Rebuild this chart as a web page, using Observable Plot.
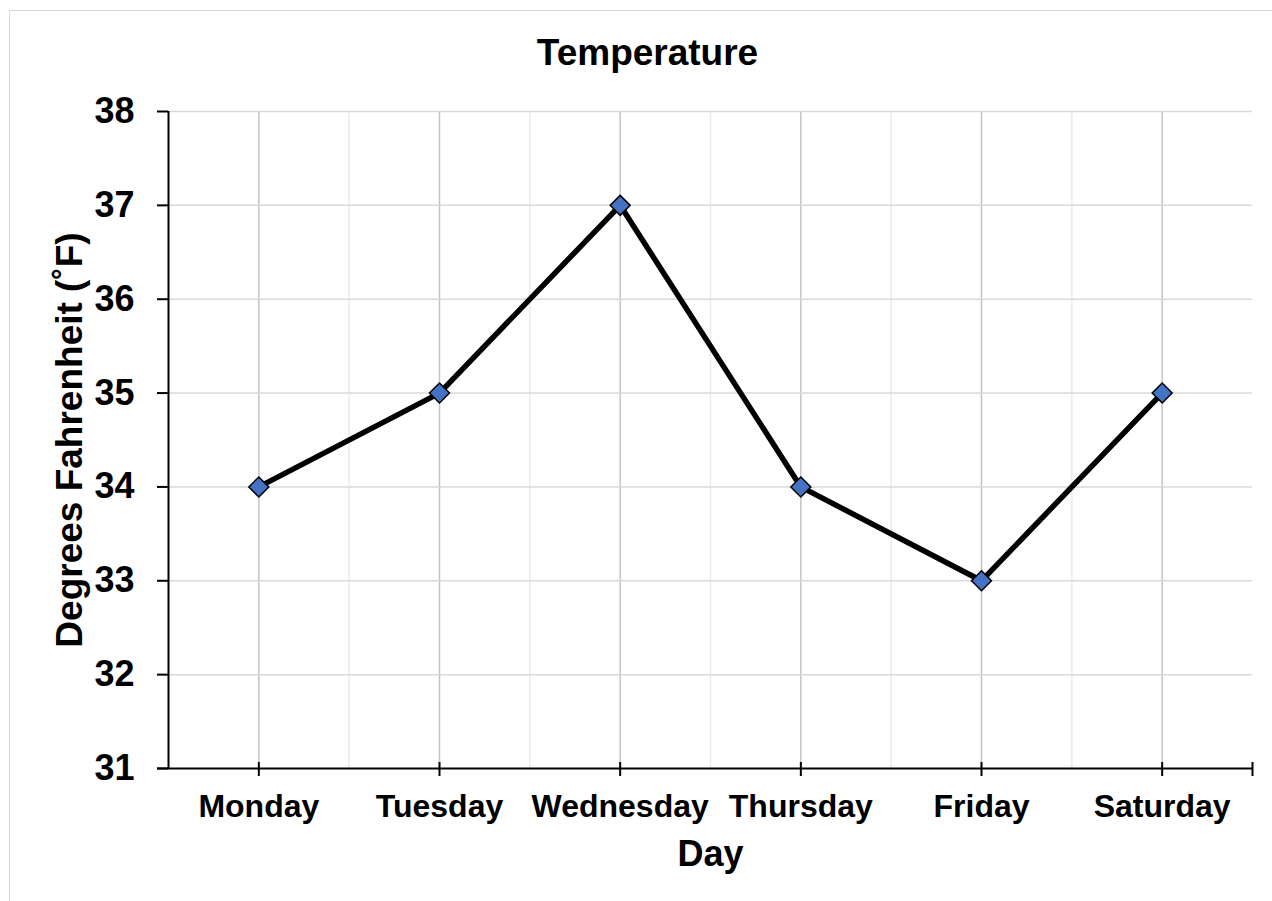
<!DOCTYPE html>
<html>
<head>
<meta charset="utf-8">
<script src="https://cdn.jsdelivr.net/npm/d3@7"></script>
<script src="https://cdn.jsdelivr.net/npm/@observablehq/plot@0.6"></script>
<style>
  html, body { margin: 0; padding: 0; background: #fff; }
  #wrap { position: relative; width: 1272px; height: 901px; overflow: hidden; }
  #border { position: absolute; left: 9px; top: 10px; width: 1400px; height: 1000px;
            border-left: 1.5px solid #d9d9d9; border-top: 1.5px solid #d9d9d9; }
  #chart { position: absolute; left: 0; top: 0; }
</style>
</head>
<body>
<div id="wrap"><div id="border"></div><div id="chart"></div></div>
<script>
const days = ["Monday", "Tuesday", "Wednesday", "Thursday", "Friday", "Saturday"];
const temps = [34, 35, 37, 34, 33, 35];
const yTicks = [31, 32, 33, 34, 35, 36, 37, 38];
const titleText = "Temperature";
const xLabel = "Day";
const yLabel = "Degrees Fahrenheit (˚F)";

const dayIdx = days.map((d, i) => i);
const minorIdx = days.map((d, i) => i + 0.5).slice(0, days.length - 1);
const data = days.map((d, i) => ({i, day: d, temp: temps[i]}));

const font = "'Liberation Sans', Arial, sans-serif";

const chart = Plot.plot({
  width: 1272,
  height: 901,
  marginTop: 111,
  marginLeft: 168,
  marginRight: 20,
  marginBottom: 133,
  style: {fontFamily: font, background: "transparent", color: "black"},
  x: {type: "linear", domain: [-0.5, days.length - 0.5]},
  y: {domain: [yTicks[0], yTicks[yTicks.length - 1]]},
  marks: [
    Plot.gridX(minorIdx, {stroke: "#ebebeb", strokeOpacity: 1, strokeWidth: 1.5}),
    Plot.gridX(dayIdx, {stroke: "#c4c4c4", strokeOpacity: 1, strokeWidth: 1.5}),
    Plot.gridY(yTicks.slice(1), {stroke: "#d9d9d9", strokeOpacity: 1, strokeWidth: 1.5}),
    // axis lines
    Plot.ruleX([-0.5], {stroke: "black", strokeWidth: 2}),
    Plot.ruleY([yTicks[0]], {stroke: "black", strokeWidth: 2, insetLeft: -11}),
    // y axis ticks and labels
    Plot.axisY({ticks: yTicks, tickSize: 11, tickPadding: 23, label: null, tickFormat: d => String(d),
      stroke: "black", strokeWidth: 2, fontSize: 36, fontWeight: "bold", fill: "black"}),
    // x axis ticks crossing the axis
    Plot.axisX({ticks: [...dayIdx, days.length - 0.5], tickSize: 14, dy: -6,
      tickFormat: () => "", label: null, stroke: "black", strokeWidth: 2}),
    // x axis labels
    Plot.axisX({ticks: dayIdx, tickSize: 0, tickPadding: 26, label: null,
      tickFormat: i => days[i], fontSize: 32, fontWeight: "bold", fill: "black"}),
    Plot.line(data, {x: "i", y: "temp", stroke: "black", strokeWidth: 5.5}),
    Plot.dot(data, {x: "i", y: "temp", symbol: "diamond2", r: 9, fill: "#4472C4",
      stroke: "black", strokeWidth: 1.5}),
    Plot.text([titleText], {frameAnchor: "top", lineAnchor: "top", textAnchor: "middle", dx: -63, dy: -73,
      fontSize: 37, fontWeight: "bold", fill: "black"}),
    Plot.text([xLabel], {frameAnchor: "bottom", lineAnchor: "top", textAnchor: "middle", dy: 72,
      fontSize: 36, fontWeight: "bold", fill: "black"}),
    Plot.text([yLabel], {frameAnchor: "left", rotate: -90, lineAnchor: "middle", textAnchor: "middle", dx: -98,
      fontSize: 37, fontWeight: "bold", fill: "black"})
  ]
});
document.getElementById("chart").appendChild(chart);
</script>
</body>
</html>
